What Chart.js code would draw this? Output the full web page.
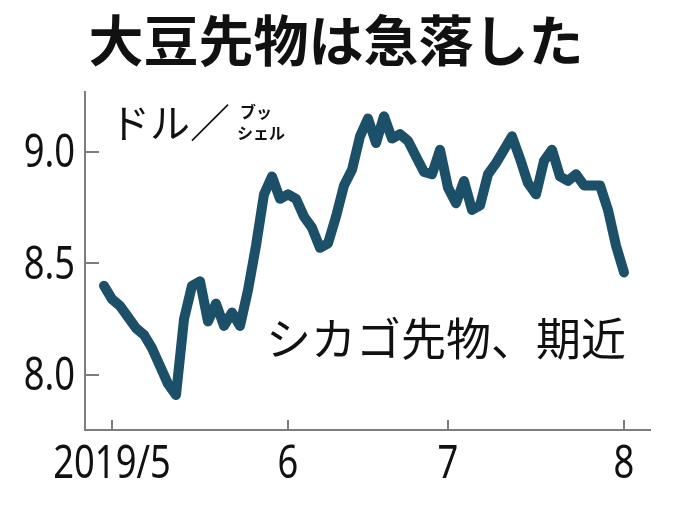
<!DOCTYPE html>
<html lang="ja">
<head>
<meta charset="UTF-8">
<title>大豆先物は急落した</title>
<style>
  html, body { margin: 0; padding: 0; background: #fff; }
  #box { width: 680px; height: 509px; position: relative; }
</style>
<script src="https://cdn.jsdelivr.net/npm/chart.js@4.4.1/dist/chart.umd.min.js"></script>
</head>
<body>
<div id="box"><canvas id="grafica"></canvas></div>
<script>
// 取引日 (2019年)
const fechas = [
  '4/30',
  '5/1','5/2','5/3','5/6','5/7','5/8','5/9','5/10','5/13','5/14','5/15','5/16','5/17',
  '5/20','5/21','5/22','5/23','5/24','5/28','5/29','5/30','5/31',
  '6/3','6/4','6/5','6/6','6/7','6/10','6/11','6/12','6/13','6/14','6/17','6/18','6/19',
  '6/20','6/21','6/24','6/25','6/26','6/27','6/28',
  '7/1','7/2','7/3','7/5','7/8','7/9','7/10','7/11','7/12','7/15','7/16','7/17','7/18',
  '7/19','7/22','7/23','7/24','7/25','7/26','7/29','7/30','7/31',
  '8/1'
];
// シカゴ大豆先物 期近 (ドル/ブッシェル)
const precios = [
  8.40,
  8.34, 8.31, 8.26, 8.21, 8.18, 8.12, 8.04, 7.96, 7.91, 8.25, 8.40, 8.42, 8.24,
  8.32, 8.22, 8.28, 8.22, 8.38, 8.58, 8.81, 8.89, 8.79,
  8.81, 8.79, 8.71, 8.66, 8.57, 8.59, 8.71, 8.85, 8.92, 9.07, 9.15, 9.04, 9.16,
  9.06, 9.08, 9.05, 8.98, 8.91, 8.90, 9.01,
  8.84, 8.77, 8.87, 8.74, 8.76, 8.90, 8.95, 9.01, 9.07, 8.97, 8.86, 8.81, 8.96,
  9.01, 8.89, 8.87, 8.90, 8.85, 8.85, 8.85, 8.74, 8.58,
  8.46
];
const ticksY = [8.0, 8.5, 9.0];

// 月の初日の位置
const inicioMes = fechas.map((f, i) => i).filter(i => i > 0 && fechas[i].split('/')[0] !== fechas[i - 1].split('/')[0]);
const etiquetaMes = i => (i === inicioMes[0] ? '2019/' : '') + fechas[i].split('/')[0];

const fuenteNum = "'Noto Sans', 'Open Sans', sans-serif";
const fuenteJa = "'Noto Sans CJK JP', sans-serif";
const gris = '#7d7d7d';
const estrecho = 0.79; // 数字は長体

// 目盛り線 (内向き)・目盛りラベル・文字
const textos = {
  id: 'textos',
  afterDraw(chart) {
    const ctx = chart.ctx;
    const x = chart.scales.x, y = chart.scales.y;
    ctx.save();
    ctx.strokeStyle = gris;
    ctx.lineWidth = 2;
    y.ticks.forEach(t => {
      const py = Math.round(y.getPixelForValue(t.value));
      ctx.beginPath(); ctx.moveTo(x.left, py); ctx.lineTo(x.left + 14, py); ctx.stroke();
    });
    x.ticks.forEach(t => {
      const px = Math.round(x.getPixelForValue(t.value));
      ctx.beginPath(); ctx.moveTo(px, y.bottom); ctx.lineTo(px, y.bottom - 10); ctx.stroke();
    });

    ctx.fillStyle = '#111';
    ctx.font = "46px " + fuenteNum;
    ctx.textBaseline = 'middle';
    ctx.textAlign = 'right';
    y.ticks.forEach(t => {
      ctx.save();
      ctx.translate(75, y.getPixelForValue(t.value));
      ctx.scale(estrecho, 1);
      ctx.fillText(t.value.toFixed(1), 0, 2);
      ctx.restore();
    });
    ctx.textBaseline = 'alphabetic';
    ctx.textAlign = 'center';
    x.ticks.forEach(t => {
      ctx.save();
      ctx.translate(x.getPixelForValue(t.value), 478);
      ctx.scale(estrecho, 1);
      ctx.fillText(etiquetaMes(t.value), 0, 0);
      ctx.restore();
    });

    ctx.textBaseline = 'middle';
    ctx.textAlign = 'center';
    ctx.font = "bold 55px " + fuenteJa;
    ctx.fillText('大豆先物は急落した', 336, 40);

    ctx.textAlign = 'left';
    ctx.font = "40px " + fuenteJa;
    ctx.fillText('ドル／', 110, 123);
    ctx.font = "bold 16px " + fuenteJa;
    ctx.fillText('ブッ', 240, 112);
    ctx.fillText('シェル', 237, 133);

    ctx.font = "45px " + fuenteJa;
    ctx.fillText('シカゴ先物、期近', 266, 339);
    ctx.restore();
  }
};

new Chart(document.getElementById('grafica'), {
  type: 'line',
  data: {
    datasets: [{
      data: precios.map((v, i) => ({ x: i, y: v })),
      borderColor: '#1c4f68',
      borderWidth: 10,
      borderCapStyle: 'round',
      borderJoinStyle: 'round',
      pointRadius: 0,
      tension: 0,
      fill: false
    }]
  },
  options: {
    responsive: true,
    maintainAspectRatio: false,
    animation: false,
    layout: { padding: { top: 92, right: 30, left: 0, bottom: 0 } },
    plugins: { legend: { display: false }, tooltip: { enabled: false } },
    scales: {
      x: {
        type: 'linear',
        min: -2.375,
        max: 68.25,
        afterBuildTicks: s => { s.ticks = inicioMes.map(v => ({ value: v })); },
        afterFit: s => { s.height = 79; },
        grid: { display: true, drawOnChartArea: false, drawTicks: false },
        border: { display: true, color: gris, width: 2 },
        ticks: { display: false }
      },
      y: {
        min: 7.753,
        max: 9.269,
        afterBuildTicks: s => { s.ticks = ticksY.map(v => ({ value: v })); },
        afterFit: s => { s.width = 85; },
        grid: { display: true, drawOnChartArea: false, drawTicks: false },
        border: { display: true, color: gris, width: 2 },
        ticks: { display: false }
      }
    }
  },
  plugins: [textos]
});
</script>
</body>
</html>
